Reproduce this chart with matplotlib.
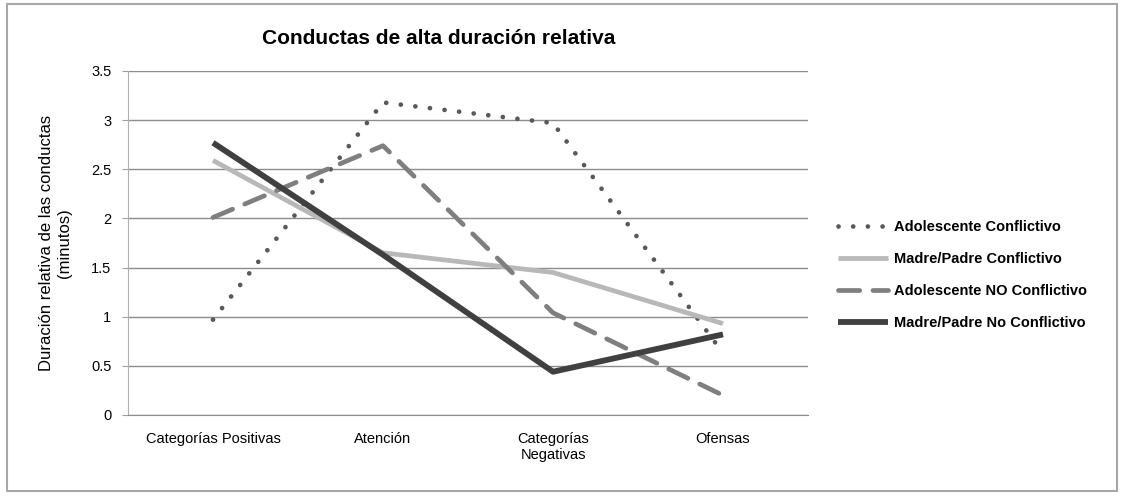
import matplotlib.pyplot as plt
from matplotlib.patches import Rectangle

plt.rcParams['font.family'] = ['Liberation Sans', 'DejaVu Sans']

categorias = ['Categorías Positivas', 'Atención', 'Categorías\nNegativas', 'Ofensas']
series = ['Adolescente Conflictivo', 'Madre/Padre Conflictivo',
          'Adolescente NO Conflictivo', 'Madre/Padre No Conflictivo']

adol_conf = [0.97, 3.18, 2.97, 0.63]
padre_conf = [2.59, 1.65, 1.45, 0.93]
adol_no_conf = [2.01, 2.74, 1.04, 0.20]
padre_no_conf = [2.77, 1.63, 0.44, 0.82]

y_ticks = [0, 0.5, 1, 1.5, 2, 2.5, 3, 3.5]
y_ticklabels = ['0', '0.5', '1', '1.5', '2', '2.5', '3', '3.5']

fig = plt.figure(figsize=(11.22, 4.97), dpi=100)
ax = fig.add_axes([128/1122, 1 - 415/497, 680/1122, 344/497])

x = range(len(categorias))
ax.plot(x, adol_conf, color='#595959', lw=3.4, linestyle=(0, (0.01, 3.1)),
        dash_capstyle='round', label=series[0], zorder=3)
ax.plot(x, padre_conf, color='#b8b8b8', lw=3.4, solid_capstyle='butt',
        label=series[1], zorder=3)
ax.plot(x, adol_no_conf, color='#7f7f7f', lw=3.4, linestyle=(0, (4.5, 2.8)),
        dash_capstyle='round', label=series[2], zorder=3)
ax.plot(x, padre_no_conf, color='#404040', lw=4.2, solid_capstyle='butt',
        label=series[3], zorder=4)

ax.set_xlim(-0.5, 3.5)
ax.set_ylim(0, 3.5)
ax.set_yticks(y_ticks)
ax.set_yticklabels(y_ticklabels, fontsize=10.5)
ax.set_xticks(list(x))
ax.set_xticklabels(categorias, fontsize=10.5)
ax.tick_params(axis='x', length=0, pad=12)
ax.tick_params(axis='y', length=4, color='#a0a0a0', pad=8)
ax.grid(axis='y', color='#8c8c8c', lw=1)
ax.set_axisbelow(True)
for s in ['top', 'right']:
    ax.spines[s].set_visible(False)
ax.spines['left'].set_color('#b0b0b0')
ax.spines['bottom'].set_color('#8c8c8c')

ax.set_ylabel('Duración relativa de las conductas\n(minutos)', fontsize=12,
              labelpad=14, linespacing=1.25)

fig.text(439/1122, 1 - 38/497, 'Conductas de alta duración relativa',
         ha='center', va='center', fontsize=15, fontweight='bold')

leg = ax.legend(loc='center left', bbox_to_anchor=(838/1122, 1 - 275/497),
                bbox_transform=fig.transFigure, frameon=False,
                prop={'size': 10.5, 'weight': 'bold'}, handlelength=3.4,
                handletextpad=0.45, labelspacing=1.25, borderpad=0,
                borderaxespad=0)

fig.patches.append(Rectangle((7/1122, 6/497), 1110/1122, 487/497,
                             transform=fig.transFigure, fill=False,
                             edgecolor='#a8a8a8', lw=1.5))

fig.savefig('out.png', dpi=100)
